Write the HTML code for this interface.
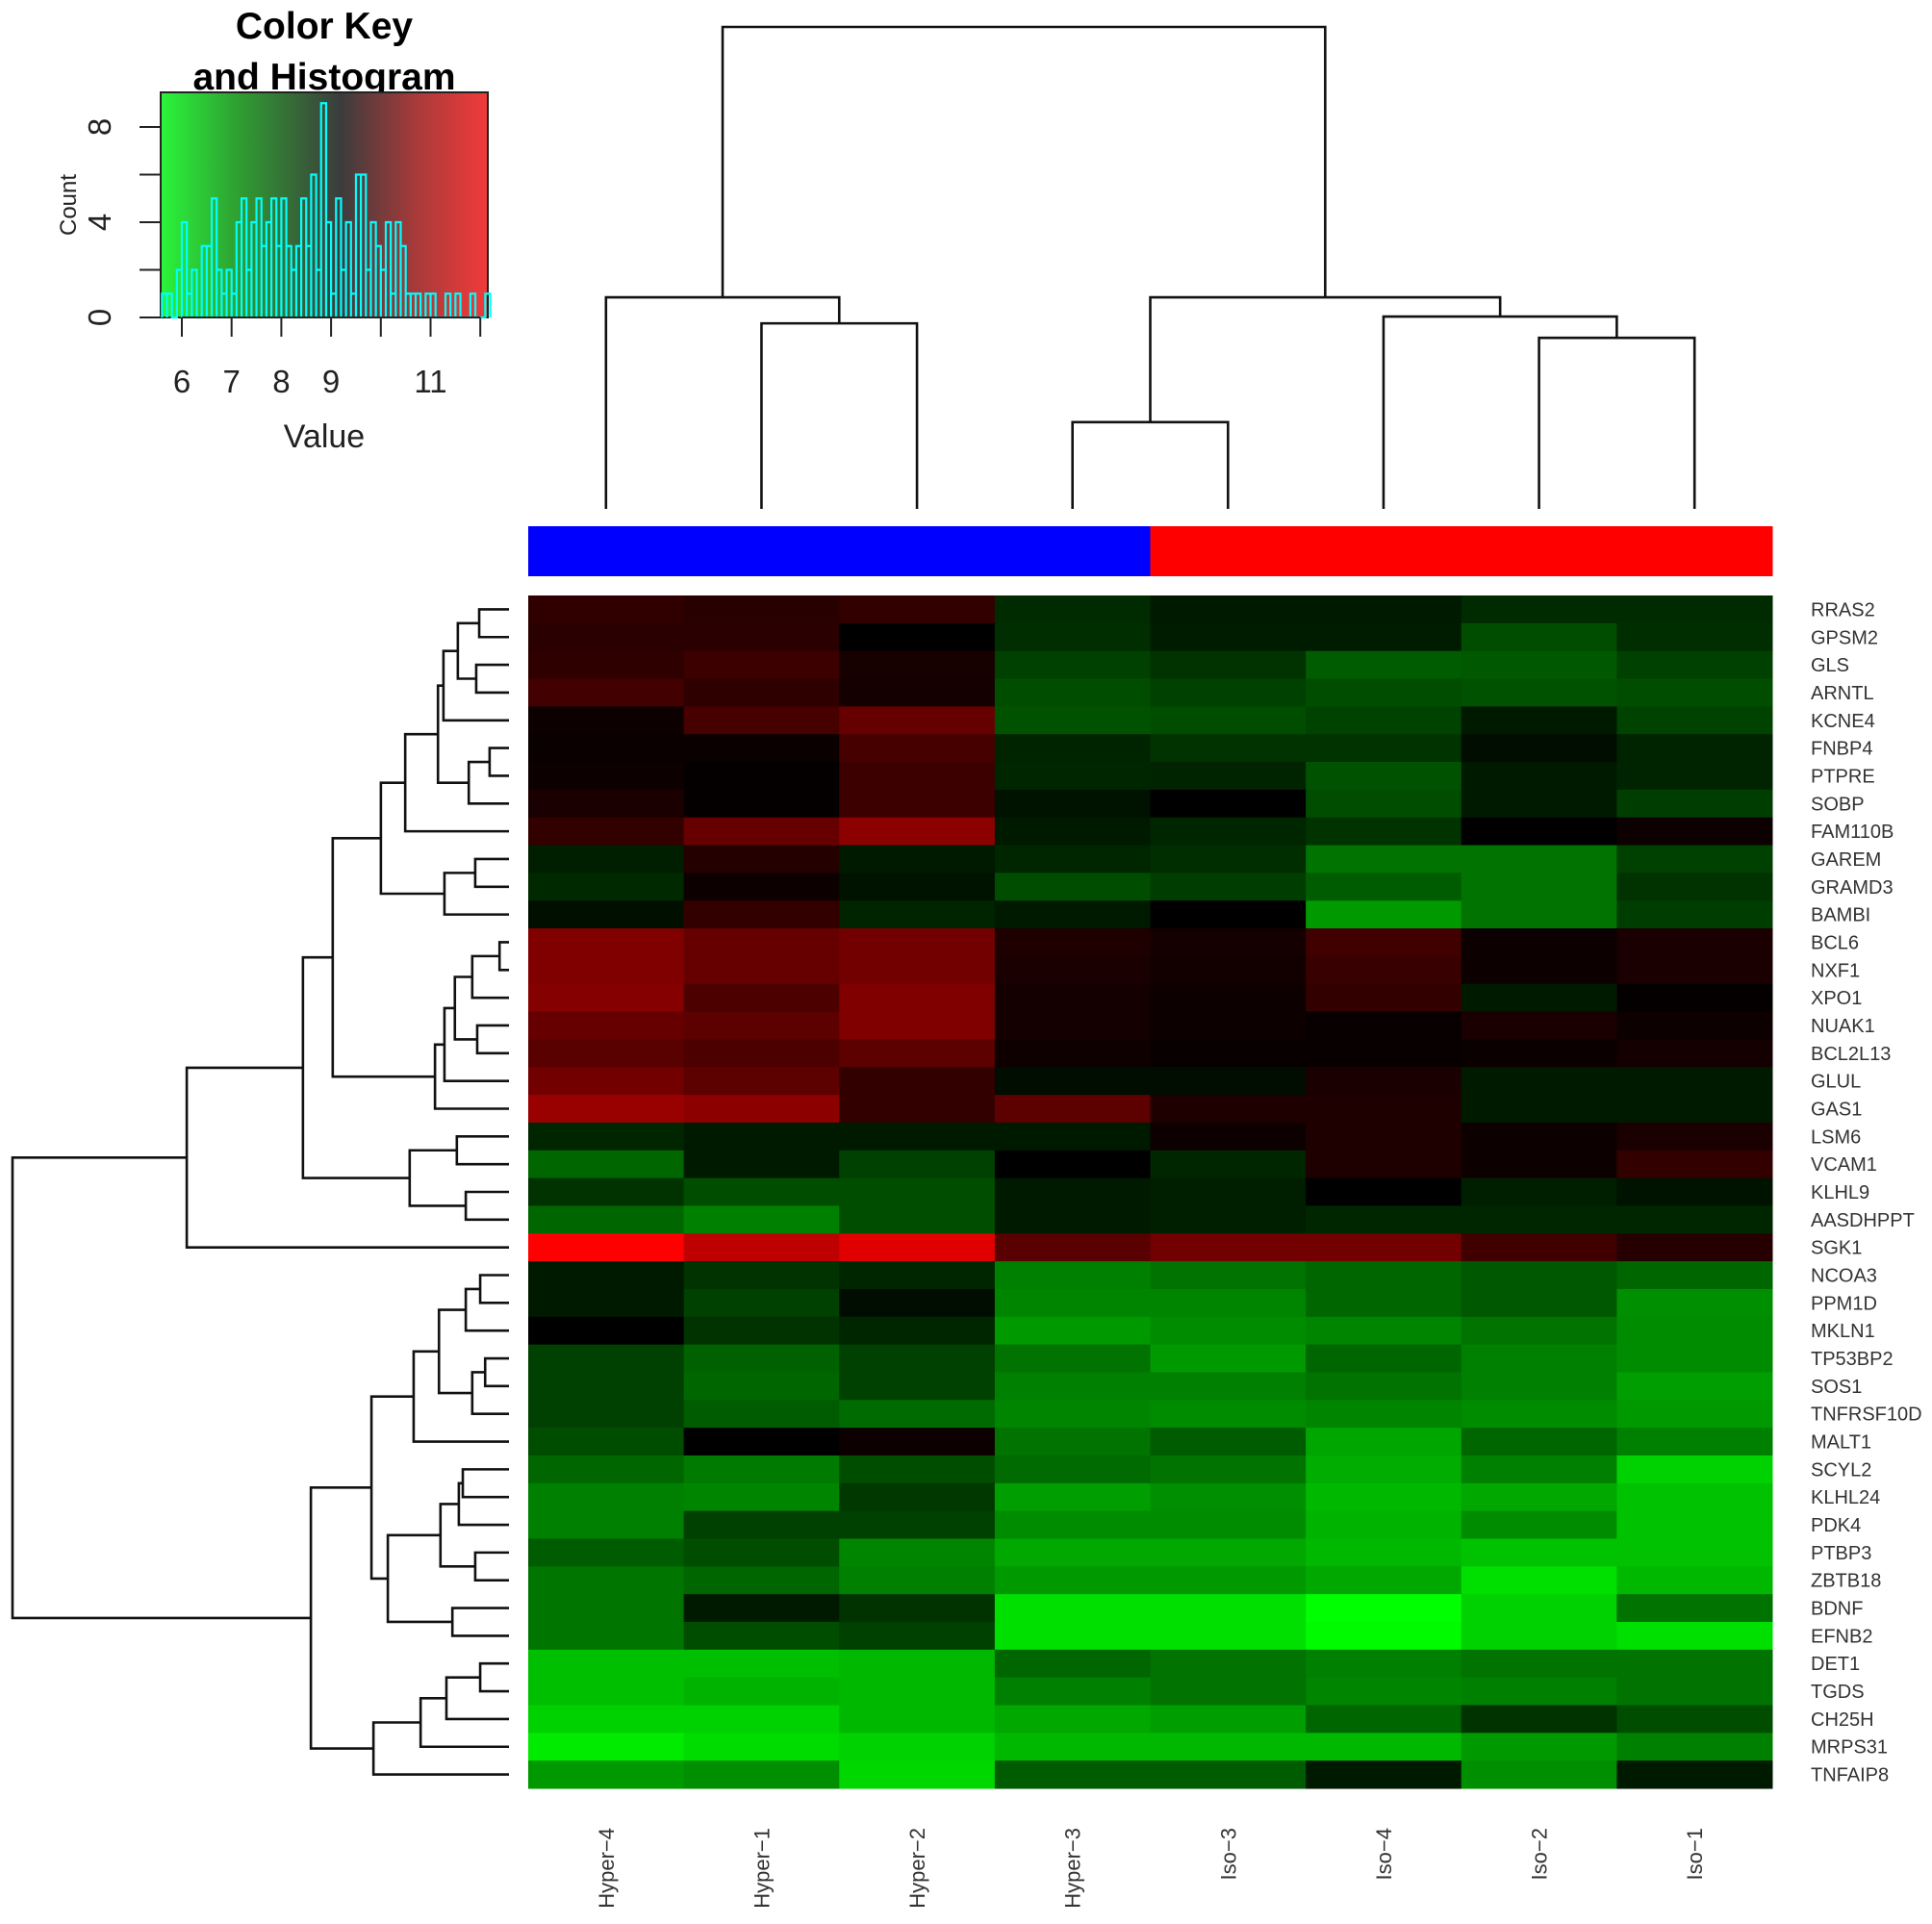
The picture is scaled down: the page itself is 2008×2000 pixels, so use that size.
<!DOCTYPE html>
<html><head><meta charset="utf-8"><style>
html,body{margin:0;padding:0;background:#fff;}
svg{display:block;font-family:"Liberation Sans",Arial,sans-serif;}
</style></head><body>
<svg id="chart" width="2008" height="2000" viewBox="0 0 2008 2000" xmlns="http://www.w3.org/2000/svg">
<defs>
<linearGradient id="keygrad" x1="0" x2="1" y1="0" y2="0">
<stop offset="0" stop-color="#2af53a"/>
<stop offset="0.25" stop-color="#2f9a32"/>
<stop offset="0.55" stop-color="#3c3c3c"/>
<stop offset="0.78" stop-color="#a83a3a"/>
<stop offset="1" stop-color="#f23a3a"/>
</linearGradient>
</defs>
<g id="key">
<text x="337" y="40" font-size="39" font-weight="bold" text-anchor="middle" fill="#000">Color Key</text>
<text x="337" y="93" font-size="39" font-weight="bold" text-anchor="middle" fill="#000">and Histogram</text>
<rect x="167" y="96" width="340" height="234" fill="url(#keygrad)" stroke="#222" stroke-width="2"/>
<g id="histg"></g>
<g id="keyaxes"></g>
<text transform="translate(79,213) rotate(-90)" font-size="24" text-anchor="middle" fill="#222">Count</text>
<text x="337" y="465" font-size="34" text-anchor="middle" fill="#222">Value</text>
</g>
<g id="coldend"></g>
<g id="rowdend"></g>
<g id="colbar"></g>
<g id="cells"></g>
<g id="rowlabels"></g>
<g id="collabels"></g>
</svg>
<script>
const columns = ["Hyper-4","Hyper-1","Hyper-2","Hyper-3","Iso-3","Iso-4","Iso-2","Iso-1"];
const groups = ["hyper","hyper","hyper","hyper","iso","iso","iso","iso"];
const genes = ["RRAS2","GPSM2","GLS","ARNTL","KCNE4","FNBP4","PTPRE","SOBP","FAM110B","GAREM","GRAMD3","BAMBI","BCL6","NXF1","XPO1","NUAK1","BCL2L13","GLUL","GAS1","LSM6","VCAM1","KLHL9","AASDHPPT","SGK1","NCOA3","PPM1D","MKLN1","TP53BP2","SOS1","TNFRSF10D","MALT1","SCYL2","KLHL24","PDK4","PTBP3","ZBTB18","BDNF","EFNB2","DET1","TGDS","CH25H","MRPS31","TNFAIP8"];
const values = [
[.19,.16,.2,-.17,-.1,-.1,-.17,-.17],
[.17,.17,0,-.18,-.11,-.11,-.3,-.18],
[.18,.24,.09,-.25,-.2,-.36,-.35,-.25],
[.26,.18,.08,-.3,-.25,-.3,-.32,-.3],
[.05,.28,.4,-.32,-.3,-.26,-.1,-.26],
[.04,.04,.28,-.14,-.2,-.2,-.05,-.14],
[.05,.02,.24,-.15,-.14,-.32,-.1,-.14],
[.1,.02,.24,-.07,0,-.3,-.1,-.24],
[.2,.4,.55,-.1,-.15,-.2,0,.05],
[-.12,.14,-.1,-.15,-.18,-.45,-.45,-.25],
[-.16,.05,-.07,-.3,-.24,-.36,-.45,-.2],
[-.06,.2,-.14,-.1,0,-.6,-.45,-.24],
[.5,.4,.45,.12,.08,.25,.05,.1],
[.5,.4,.45,.1,.07,.22,.05,.1],
[.52,.3,.5,.08,.05,.2,-.1,.02],
[.4,.36,.5,.08,.05,.03,.1,.05],
[.35,.3,.36,.06,.03,.03,.04,.08],
[.45,.36,.2,-.05,-.05,.1,-.1,-.1],
[.6,.55,.2,.36,.12,.12,-.1,-.1],
[-.15,-.1,-.1,-.1,.05,.12,.05,.1],
[-.4,-.1,-.25,0,-.15,.12,.05,.2],
[-.2,-.3,-.3,-.1,-.12,0,-.12,-.07],
[-.4,-.5,-.3,-.1,-.12,-.15,-.15,-.15],
[1,.75,.88,.35,.45,.45,.25,.15],
[-.1,-.2,-.15,-.5,-.45,-.4,-.35,-.4],
[-.1,-.25,-.05,-.52,-.52,-.4,-.35,-.56],
[0,-.2,-.15,-.6,-.55,-.52,-.45,-.55],
[-.25,-.38,-.25,-.45,-.6,-.4,-.5,-.55],
[-.25,-.4,-.25,-.5,-.5,-.45,-.5,-.62],
[-.25,-.36,-.42,-.52,-.55,-.52,-.55,-.6],
[-.3,0,.05,-.45,-.36,-.65,-.4,-.5],
[-.4,-.48,-.3,-.42,-.45,-.68,-.5,-.82],
[-.5,-.52,-.22,-.62,-.56,-.72,-.66,-.76],
[-.5,-.25,-.25,-.55,-.55,-.7,-.55,-.76],
[-.36,-.3,-.52,-.66,-.66,-.72,-.76,-.76],
[-.46,-.4,-.5,-.6,-.6,-.66,-.88,-.72],
[-.46,-.1,-.2,-.88,-.88,-1,-.82,-.45],
[-.46,-.3,-.25,-.88,-.88,-.98,-.82,-.88],
[-.75,-.75,-.72,-.4,-.45,-.5,-.45,-.45],
[-.75,-.7,-.72,-.5,-.45,-.52,-.5,-.45],
[-.82,-.82,-.72,-.66,-.62,-.4,-.2,-.3],
[-.92,-.86,-.82,-.72,-.72,-.72,-.6,-.5],
[-.6,-.56,-.84,-.36,-.36,-.1,-.56,-.1]
];
const histStart = 5.6;
const histBinWidth = 0.1;
const histCounts = [1,1,0,2,4,1,2,0,3,3,5,2,1,2,1,4,5,2,4,5,3,4,5,3,5,3,2,3,5,3,6,2,9,4,1,5,2,4,1,6,6,2,4,3,2,4,1,4,3,1,1,1,0,1,1,0,0,1,0,1,0,0,1,0,0,1];
const keyXTicks = [6,7,8,9,10,11,12];
const keyXLabels = ["6","7","8","9","","11",""];
const keyYTicks = [0,2,4,6,8];
const keyYLabels = ["0","","4","","8"];
// dendrogram merges: [left, right, height]
const colTree = [[0,[1,2,0.385],0.439],[[3,4,0.18],[5,[6,7,0.355],0.399],0.439],1.0];
const rowTop = [[[[[[[[[0,1,.06],[2,3,.066],.103],4,.132],[[5,6,.039],7,.081],.143],8,.209],[[9,10,.068],11,.13],.258],[[[[[12,13,.019],14,.074],[15,16,.064],.109],17,.13],18,.149],.355],[[19,20,.105],[21,22,.087],.2],.415],23,.649];
const rowBottom = [[[[[[24,25,.058],26,.087],[[27,28,.048],29,.074],.141],30,.192],[[[[31,32,.093],33,.101],[34,35,.068],.138],[36,37,.114],.244],.277],[[[[38,39,.058],40,.126],41,.178],42,.273],.399];
const rowTree = [rowTop,rowBottom,1.0];

const NS="http://www.w3.org/2000/svg";
function mk(tag, attrs, parent){const e=document.createElementNS(NS,tag);for(const k in attrs)e.setAttribute(k,attrs[k]);parent.appendChild(e);return e;}

const HX0=549,HX1=1842,HY0=619,HY1=1859;
const cw=(HX1-HX0)/columns.length, rh=(HY1-HY0)/genes.length;
const xCol=i=>HX0+cw*i, yRow=i=>HY0+rh*i;
function colorOf(v){v=Math.max(-1,Math.min(1,v));return v>=0?`rgb(${Math.round(255*v)},0,0)`:`rgb(0,${Math.round(-255*v)},0)`;}

const cells=document.getElementById('cells');
values.forEach((row,r)=>row.forEach((v,c)=>{
 const e=mk('rect',{x:xCol(c),y:yRow(r),width:cw+0.5,height:rh+0.5,fill:colorOf(v)},cells);
 
 
}));

const colbar=document.getElementById('colbar');
groups.forEach((g,c)=>{
 const e=mk('rect',{x:xCol(c),y:547,width:cw+0.5,height:52,fill:g==='hyper'?'#0000ff':'#ff0000'},colbar);
 
 
});

const rl=document.getElementById('rowlabels');
genes.forEach((g,r)=>{
 const t=mk('text',{x:1882,y:yRow(r)+rh/2+7,'font-size':20,fill:'#333'},rl);
 t.textContent=g;
 
 
});
const cl=document.getElementById('collabels');
columns.forEach((c,i)=>{
 const cx=xCol(i)+cw/2+8;
 const t=mk('text',{transform:`translate(${cx},1900) rotate(-90)`,'text-anchor':'end','font-size':22,fill:'#333'},cl);
 t.textContent=c.replace('-','\u2212');
 
 
});

function drawTree(tree, leafPos, hToCoord, leafCoord, horizontal, g){
 function rec(n){
  if(typeof n==='number') return {p:leafPos(n),h:leafCoord};
  const a=rec(n[0]), b=rec(n[1]), hc=hToCoord(n[2]);
  const d = horizontal ? `M${a.h},${a.p}H${hc}V${b.p}H${b.h}` : `M${a.p},${a.h}V${hc}H${b.p}V${b.h}`;
  const e=mk('path',{d:d,fill:'none',stroke:'#111','stroke-width':2.6},g);
  
  
  return {p:(a.p+b.p)/2,h:hc};
 }
 rec(tree);
}
drawTree(colTree,i=>xCol(i)+cw/2,h=>529-h*(529-28),529,false,document.getElementById('coldend'));
drawTree(rowTree,i=>yRow(i)+rh/2,h=>529-h*(529-13),529,true,document.getElementById('rowdend'));

const KY0=330;
const kx=v=>189+(v-6)*51.7, ky=c=>KY0-c*24.75;
const hg=document.getElementById('histg');
let d=`M${kx(histStart)},${ky(0)}`;
histCounts.forEach((c,i)=>{const x0=kx(histStart+i*histBinWidth),x1=kx(histStart+(i+1)*histBinWidth);d+=`L${x0},${ky(c)}L${x1},${ky(c)}L${x1},${ky(0)}`;});
const hp=mk('path',{d:d,fill:'none',stroke:'#00ffff','stroke-width':2.2},hg);


const ka=document.getElementById('keyaxes');
const xa=mk('path',{d:`M${kx(6)},${KY0}H${kx(12)}`,stroke:'#222','stroke-width':2},ka);


keyXTicks.forEach((v,i)=>{
 const l=mk('line',{x1:kx(v),x2:kx(v),y1:KY0,y2:350,stroke:'#222','stroke-width':2},ka);
 
 
 if(keyXLabels[i]){const t=mk('text',{x:kx(v),y:408,'font-size':33,'text-anchor':'middle',fill:'#222'},ka);t.textContent=keyXLabels[i];
 
 }
});
keyYTicks.forEach((v,i)=>{
 const l=mk('line',{x1:145,x2:167,y1:ky(v),y2:ky(v),stroke:'#222','stroke-width':2},ka);
 
 
 if(keyYLabels[i]){const t=mk('text',{transform:`translate(115,${ky(v)}) rotate(-90)`,'font-size':33,'text-anchor':'middle',fill:'#222'},ka);t.textContent=keyYLabels[i];
 
 }
});
</script>
</body></html>
